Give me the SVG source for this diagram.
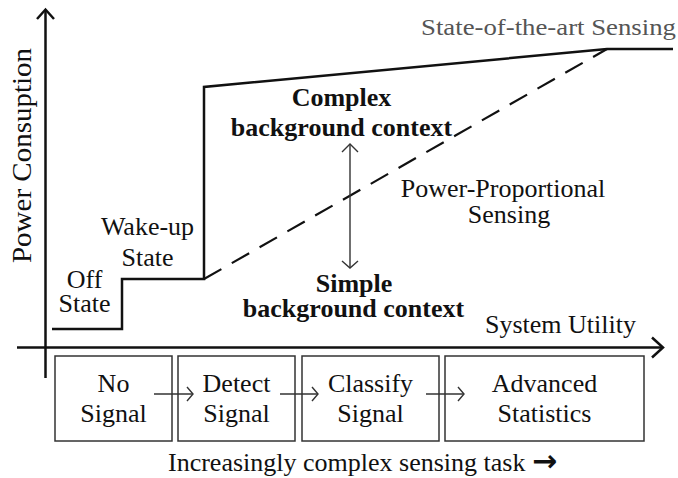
<svg xmlns="http://www.w3.org/2000/svg" width="678" height="478" viewBox="0 0 678 478">
  <style>
    text { font-family: "Liberation Serif", "Times New Roman", serif; fill: #111; }
    .lbl { font-size: 26px; text-anchor: middle; }
    .bold { font-size: 26px; font-weight: bold; text-anchor: middle; }
    .axis { stroke: #111; stroke-width: 2.5; fill: none; }
    .curve { stroke: #111; stroke-width: 2.5; fill: none; stroke-linejoin: miter; }
    .dash { stroke: #111; stroke-width: 2.2; fill: none; stroke-dasharray: 20 12; }
    .box { stroke: #333; stroke-width: 1.5; fill: none; }
    .thin { stroke: #333; stroke-width: 1.4; fill: none; }
  </style>

  <rect width="678" height="478" fill="#fff"/>

  <!-- axes -->
  <g id="axes">
    <line class="axis" x1="45.5" y1="10" x2="45.5" y2="378"/>
    <polyline class="axis" points="37,19 45.5,9.5 54,19"/>
    <line class="axis" x1="17" y1="347.5" x2="663" y2="347.5"/>
    <polyline class="axis" points="652,337.5 663,347.5 652,357.5"/>
    <text transform="translate(31,263) rotate(-90)" style="font-size:28px" textLength="215" lengthAdjust="spacingAndGlyphs">Power Consuption</text>
    <text x="485" y="333" style="font-size:26px">System Utility</text>
  </g>

  <!-- state-of-the-art power curve -->
  <g id="sota-curve">
    <polyline class="curve" points="52,329 122,329 122,279 204,279 204,87 607,49 673,49"/>
    <text x="421" y="35" style="font-size:24px; fill:#555" textLength="255" lengthAdjust="spacingAndGlyphs">State-of-the-art Sensing</text>
  </g>

  <!-- power-proportional curve -->
  <g id="pp-curve">
    <line class="dash" x1="204" y1="279" x2="607" y2="49"/>
    <text class="lbl" x="503" y="197">Power-Proportional</text>
    <text class="lbl" x="509" y="223">Sensing</text>
  </g>

  <!-- state labels -->
  <g id="off-state">
    <text class="lbl" x="84.5" y="288">Off</text>
    <text class="lbl" x="84.5" y="312">State</text>
  </g>
  <g id="wake-state">
    <text class="lbl" x="147.5" y="235">Wake-up</text>
    <text class="lbl" x="147.5" y="266">State</text>
  </g>

  <!-- background context range -->
  <g id="context">
    <text class="bold" x="341.5" y="105.5">Complex</text>
    <text class="bold" x="341.5" y="136">background context</text>
    <line class="thin" x1="350" y1="144" x2="350" y2="268"/>
    <polyline class="thin" points="342,152 350,144 358,152"/>
    <polyline class="thin" points="342,261 350,268 358,261"/>
    <text class="bold" x="354" y="292">Simple</text>
    <text class="bold" x="353.5" y="317">background context</text>
  </g>

  <!-- sensing task boxes -->
  <g id="task-none">
    <rect class="box" x="55" y="356" width="117" height="85"/>
    <text class="lbl" x="113.5" y="392">No</text>
    <text class="lbl" x="113.5" y="422">Signal</text>
  </g>
  <g id="task-detect">
    <rect class="box" x="178" y="356" width="117" height="85"/>
    <text class="lbl" x="236.5" y="392">Detect</text>
    <text class="lbl" x="236.5" y="422">Signal</text>
  </g>
  <g id="task-classify">
    <rect class="box" x="302" y="356" width="137" height="85"/>
    <text class="lbl" x="370.5" y="392">Classify</text>
    <text class="lbl" x="370.5" y="422">Signal</text>
  </g>
  <g id="task-stats">
    <rect class="box" x="445" y="356" width="199" height="85"/>
    <text class="lbl" x="544.5" y="392">Advanced</text>
    <text class="lbl" x="544.5" y="422">Statistics</text>
  </g>

  <!-- connectors between tasks -->
  <g id="connectors">
    <line class="thin" x1="154" y1="394" x2="193" y2="394"/>
    <polyline class="thin" points="187,387 193,394 187,401"/>
    <line class="thin" x1="280" y1="394" x2="318" y2="394"/>
    <polyline class="thin" points="312,387 318,394 312,401"/>
    <line class="thin" x1="426" y1="394" x2="464" y2="394"/>
    <polyline class="thin" points="458,387 464,394 458,401"/>
  </g>

  <text x="168" y="471" style="font-size:26px">Increasingly complex sensing task <tspan style="font-family:'DejaVu Sans', sans-serif; font-weight:bold; font-size:30px">→</tspan></text>
</svg>
